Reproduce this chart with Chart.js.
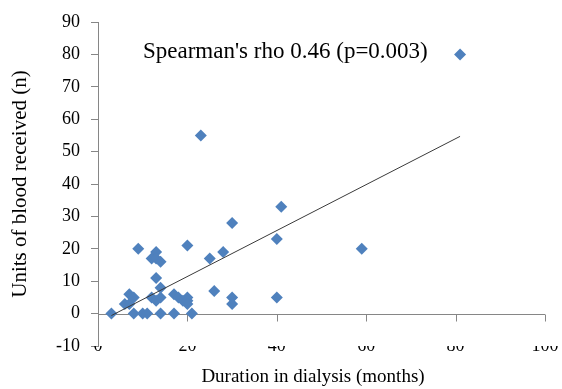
<!DOCTYPE html>
<html>
<head>
<meta charset="utf-8">
<script src="https://cdn.jsdelivr.net/npm/chart.js@4"></script>
<style>
  html, body { margin: 0; padding: 0; background: #fff; }
  #wrap { width: 562px; height: 389px; position: relative; }
</style>
</head>
<body>
<div id="wrap"><canvas id="chart"></canvas></div>
<script>
const durationMonths = [3, 6, 7, 7, 8, 8, 9, 10, 11, 12, 13, 13, 14, 13, 14, 12, 13, 14, 14, 17, 17, 18, 19, 20, 20, 20, 20, 21, 23, 25, 26, 28, 30, 30, 30, 40, 41, 40, 59, 81];
const bloodUnits = [0, 3, 6, 3, 5, 0, 20, 0, 0, 17, 19, 17, 16, 11, 8, 5, 4, 5, 0, 0, 6, 5, 4, 5, 4, 3, 21, 0, 55, 17, 7, 19, 28, 5, 3, 23, 33, 5, 20, 80];
const trendX = [3, 81];
const trendY = [-0.6, 54.7];
const xTicks = [0, 20, 40, 60, 80, 100];
const yTicks = [-10, 0, 10, 20, 30, 40, 50, 60, 70, 80, 90];
const annotationText = "Spearman's rho 0.46 (p=0.003)";
const xTitle = "Duration in dialysis (months)";

const FONT = "'Liberation Serif', 'Times New Roman', serif";
const AXIS_GRAY = "#868686";

// zero line of the x axis with its downward tick marks, plus the text labels
const overlayPlugin = {
  id: "overlay",
  beforeDatasetsDraw(chart) {
    const { ctx, scales: { x, y } } = chart;
    const y0 = Math.round(y.getPixelForValue(0)) + 0.5;
    ctx.save();
    ctx.strokeStyle = AXIS_GRAY;
    ctx.lineWidth = 1;
    ctx.beginPath();
    ctx.moveTo(x.getPixelForValue(xTicks[0]), y0);
    ctx.lineTo(x.getPixelForValue(xTicks[xTicks.length - 1]), y0);
    xTicks.slice(1).forEach((v) => {
      const px = Math.round(x.getPixelForValue(v)) + 0.5;
      ctx.moveTo(px, y0);
      ctx.lineTo(px, y0 + 7);
    });
    ctx.stroke();
    ctx.restore();
  },
  afterDraw(chart) {
    const { ctx } = chart;
    ctx.save();
    ctx.fillStyle = "#000";
    ctx.textBaseline = "middle";
    ctx.font = "23px " + FONT;
    ctx.textAlign = "left";
    ctx.fillText(annotationText, 143, 52);
    ctx.font = "19px " + FONT;
    ctx.textAlign = "center";
    ctx.fillText(xTitle, 313, 377);
    ctx.restore();
  }
};

new Chart(document.getElementById("chart"), {
  type: "scatter",
  data: {
    datasets: [
      {
        type: "line",
        label: "trend",
        data: trendX.map((x, i) => ({ x, y: trendY[i] })),
        borderColor: "#3a3a3a",
        borderWidth: 1,
        pointRadius: 0,
        fill: false,
        order: 0
      },
      {
        label: "patients",
        data: durationMonths.map((x, i) => ({ x, y: bloodUnits[i] })),
        pointStyle: "rectRot",
        pointRadius: 6,
        backgroundColor: "#4F81BD",
        borderColor: "#4F81BD",
        borderWidth: 0,
        order: 1
      }
    ]
  },
  options: {
    animation: false,
    responsive: true,
    maintainAspectRatio: false,
    layout: { padding: { top: 22, right: 17, bottom: 0, left: 0 } },
    plugins: {
      legend: { display: false },
      tooltip: { enabled: false }
    },
    scales: {
      x: {
        type: "linear",
        min: 0,
        max: 100,
        afterBuildTicks(scale) { scale.ticks = xTicks.map((value) => ({ value })); },
        afterFit(scale) { scale.height = 43; },
        border: { display: false },
        grid: { display: false, drawTicks: false },
        ticks: { color: "#000", padding: -11, font: { family: FONT, size: 18 } },
        title: { display: false }
      },
      y: {
        min: -10,
        max: 90,
        afterBuildTicks(scale) { scale.ticks = yTicks.map((value) => ({ value })); },
        afterFit(scale) { scale.width = 98; },
        border: { display: true, color: AXIS_GRAY, width: 1 },
        grid: { drawOnChartArea: false, drawTicks: true, tickLength: 7, color: AXIS_GRAY },
        ticks: { color: "#000", padding: 11, font: { family: FONT, size: 18 } },
        title: {
          display: true,
          text: "Units of blood received (n)",
          color: "#000",
          font: { family: FONT, size: 21 },
          padding: { top: 8, bottom: 0 }
        }
      }
    }
  },
  plugins: [overlayPlugin]
});
</script>
</body>
</html>
